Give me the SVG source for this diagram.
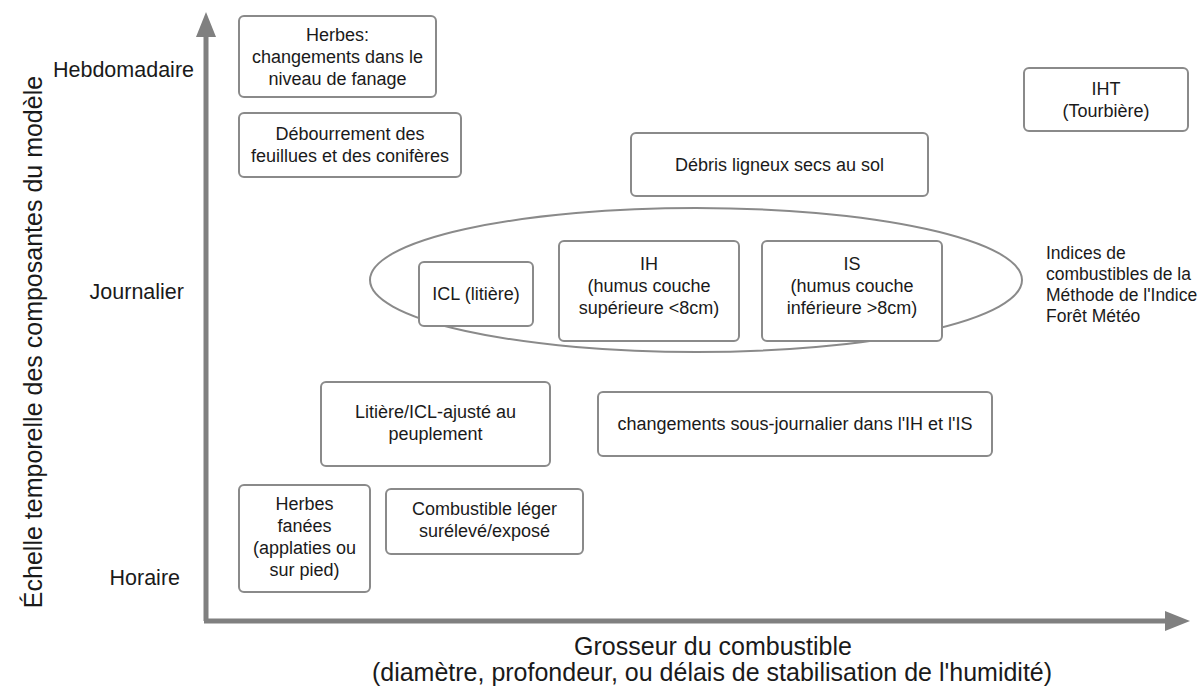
<svg xmlns="http://www.w3.org/2000/svg" width="1202" height="687" viewBox="0 0 1202 687">
<defs>
<style>
.box{fill:#fff;stroke:#8a8a8a;stroke-width:2}
.t{font-family:"Liberation Sans",Arial,sans-serif;font-size:18px;fill:#1a1a1a;text-anchor:middle}
.l{font-family:"Liberation Sans",Arial,sans-serif;font-size:17.5px;fill:#1a1a1a}
.ax{font-family:"Liberation Sans",Arial,sans-serif;font-size:21.5px;fill:#1a1a1a}
.ti{font-family:"Liberation Sans",Arial,sans-serif;font-size:25px;fill:#1a1a1a;text-anchor:middle}
.axis{stroke:#808080;stroke-width:5;fill:none}
</style>
<marker id="ah" markerWidth="5" markerHeight="4" refX="0.6" refY="2" orient="auto" markerUnits="strokeWidth">
<path d="M0,0 L5,2 L0,4 Z" fill="#808080"/>
</marker>
</defs>
<rect width="1202" height="687" fill="#fff"/>
<g id="axes">
<path class="axis" d="M206,621 L206,34" marker-end="url(#ah)"/>
<path class="axis" d="M204,621 L1168,621" marker-end="url(#ah)"/>
</g>
<g id="axis-labels">
<text class="ax" x="194" y="77" text-anchor="end">Hebdomadaire</text>
<text class="ax" x="184" y="299" text-anchor="end">Journalier</text>
<text class="ax" x="180" y="585" text-anchor="end">Horaire</text>
<text class="ti" transform="translate(42,342) rotate(-90)">Échelle temporelle des composantes du modèle</text>
<text class="ti" x="713" y="655">Grosseur du combustible</text>
<text class="ti" x="712" y="681">(diamètre, profondeur, ou délais de stabilisation de l'humidité)</text>
</g>
<g id="n-herbes-fanage">
<rect class="box" x="239" y="16" width="197" height="81" rx="5"/>
<text class="t" x="337.5" y="41">Herbes:</text>
<text class="t" x="337.5" y="63">changements dans le</text>
<text class="t" x="337.5" y="85">niveau de fanage</text>
</g>
<g id="n-debourrement">
<rect class="box" x="239" y="113" width="222" height="64" rx="5"/>
<text class="t" x="350" y="140">Débourrement des</text>
<text class="t" x="350" y="162">feuillues et des conifères</text>
</g>
<g id="n-debris">
<rect class="box" x="631" y="133" width="297" height="63" rx="5"/>
<text class="t" x="779.5" y="171">Débris ligneux secs au sol</text>
</g>
<g id="n-iht">
<rect class="box" x="1024" y="68" width="164" height="63" rx="5"/>
<text class="t" x="1106" y="95">IHT</text>
<text class="t" x="1106" y="117">(Tourbière)</text>
</g>
<g id="n-ifm-group">
<ellipse cx="696" cy="280" rx="326" ry="72" fill="none" stroke="#8a8a8a" stroke-width="2"/>
</g>
<g id="n-icl">
<rect class="box" x="419" y="262" width="114" height="64" rx="5"/>
<text class="t" x="476" y="300">ICL (litière)</text>
</g>
<g id="n-ih">
<rect class="box" x="559" y="241" width="180" height="100" rx="5"/>
<text class="t" x="649" y="270">IH</text>
<text class="t" x="649" y="292">(humus couche</text>
<text class="t" x="649" y="314">supérieure &lt;8cm)</text>
</g>
<g id="n-is">
<rect class="box" x="762" y="241" width="180" height="100" rx="5"/>
<text class="t" x="852" y="270">IS</text>
<text class="t" x="852" y="292">(humus couche</text>
<text class="t" x="852" y="314">inférieure &gt;8cm)</text>
</g>
<g id="n-ifm-label">
<text class="l" x="1046" y="259">Indices de</text>
<text class="l" x="1046" y="280">combustibles de la</text>
<text class="l" x="1046" y="301">Méthode de l'Indice</text>
<text class="l" x="1046" y="322">Forêt Météo</text>
</g>
<g id="n-litiere">
<rect class="box" x="321" y="382" width="229" height="84" rx="5"/>
<text class="t" x="435.5" y="418">Litière/ICL-ajusté au</text>
<text class="t" x="435.5" y="440">peuplement</text>
</g>
<g id="n-sous-journalier">
<rect class="box" x="598" y="392" width="394" height="64" rx="5"/>
<text class="t" x="795" y="430">changements sous-journalier dans l'IH et l'IS</text>
</g>
<g id="n-herbes-fanees">
<rect class="box" x="239" y="485" width="131" height="107" rx="5"/>
<text class="t" x="304.5" y="510">Herbes</text>
<text class="t" x="304.5" y="532">fanées</text>
<text class="t" x="304.5" y="554">(applaties ou</text>
<text class="t" x="304.5" y="576">sur pied)</text>
</g>
<g id="n-combustible-leger">
<rect class="box" x="386" y="489" width="197" height="65" rx="5"/>
<text class="t" x="484.5" y="515">Combustible léger</text>
<text class="t" x="484.5" y="537">surélevé/exposé</text>
</g>
</svg>
